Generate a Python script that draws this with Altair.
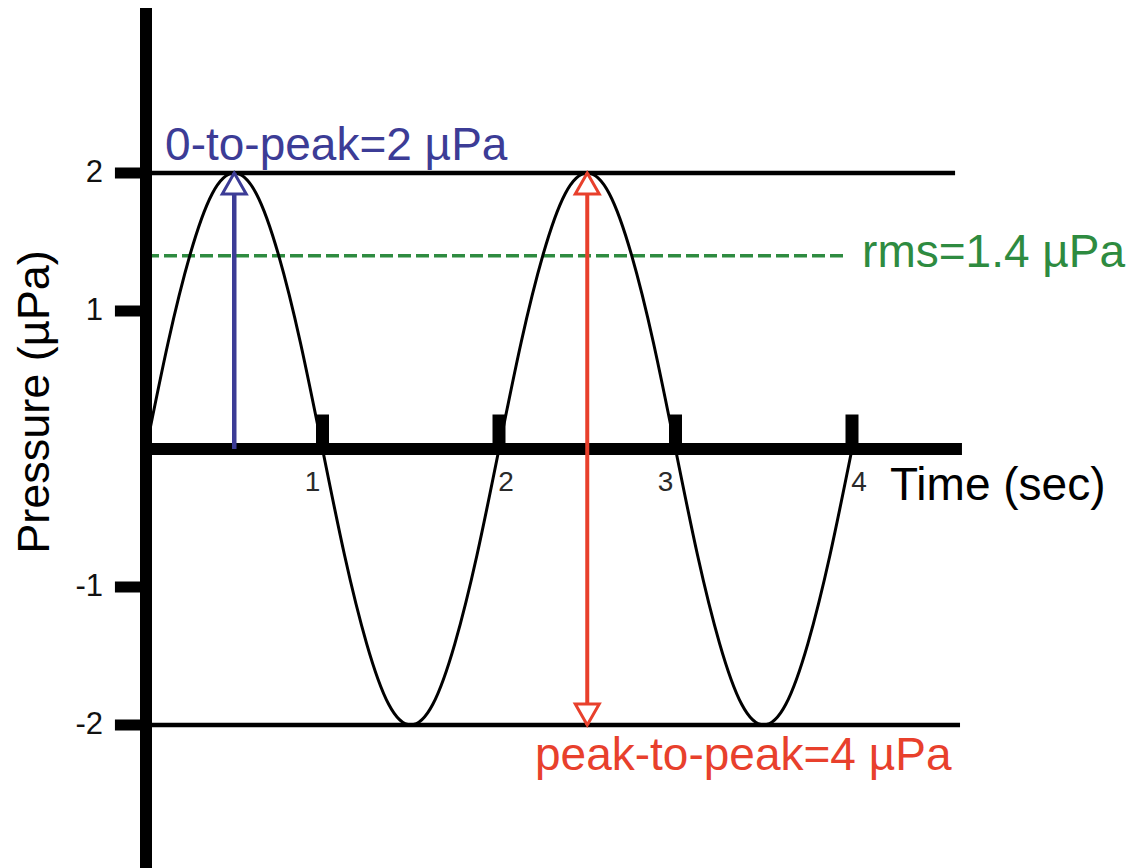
import altair as alt
import pandas as pd

# Sound-pressure sine wave: time (s) and pressure (µPa)
time_s = [0, 0.125, 0.25, 0.375, 0.5, 0.625, 0.75, 0.875,
          1, 1.125, 1.25, 1.375, 1.5, 1.625, 1.75, 1.875,
          2, 2.125, 2.25, 2.375, 2.5, 2.625, 2.75, 2.875,
          3, 3.125, 3.25, 3.375, 3.5, 3.625, 3.75, 3.875, 4]
pressure = [0, 0.77, 1.41, 1.85, 2, 1.85, 1.41, 0.77,
            0, -0.77, -1.41, -1.85, -2, -1.85, -1.41, -0.77,
            0, 0.77, 1.41, 1.85, 2, 1.85, 1.41, 0.77,
            0, -0.77, -1.41, -1.85, -2, -1.85, -1.41, -0.77, 0]

x_ticks = [1, 2, 3, 4]
x_tick_labels = ["1", "2", "3", "4"]
y_ticks = [2, 1, -1, -2]
y_tick_labels = ["2", "1", "-1", "-2"]

peak = 2.0          # 0-to-peak amplitude
rms = 1.4           # root-mean-square value
peak_to_peak = 4.0  # trough to crest
peak_time = 0.5
crest_time = 2.5

BLUE = "#3c3c96"
RED = "#e8402c"
GREEN = "#2e8b40"
FONT = "Liberation Sans"

XS = alt.Scale(domain=[-0.8272, 5.5694], nice=False, zero=False)
YS = alt.Scale(domain=[-3.0362, 3.2536], nice=False, zero=False)


def X(field):
    return alt.X(field, type="quantitative", scale=XS, axis=None)


def Y(field):
    return alt.Y(field, type="quantitative", scale=YS, axis=None)


# axes drawn as thick rules crossing at the origin
y_axis = alt.Chart(pd.DataFrame({"x": [0], "y": [3.196], "y2": [-3.2]})).mark_rule(
    color="black", strokeWidth=12
).encode(x=X("x"), y=Y("y"), y2="y2")

x_axis = alt.Chart(pd.DataFrame({"x": [0], "x2": [4.623], "y": [0]})).mark_rule(
    color="black", strokeWidth=12
).encode(x=X("x"), x2="x2", y=Y("y"))

# horizontal reference lines at the crest and trough
levels = alt.Chart(pd.DataFrame({"x": [0, 0], "x2": [4.584, 4.612], "y": [peak, -peak]})).mark_rule(
    color="black", strokeWidth=4.5
).encode(x=X("x"), x2="x2", y=Y("y"))

rms_line = alt.Chart(pd.DataFrame({"x": [0], "x2": [3.977], "y": [rms]})).mark_rule(
    color=GREEN, strokeWidth=3.5, strokeDash=[13, 5]
).encode(x=X("x"), x2="x2", y=Y("y"))

x_tick_df = pd.DataFrame({"t": x_ticks, "y": [0] * 4, "y2": [0.25] * 4, "label": x_tick_labels,
                          "odd": [t % 2 == 1 for t in x_ticks]})
x_tick_marks = alt.Chart(x_tick_df).mark_rule(color="black", strokeWidth=13).encode(
    x=X("t"), y=Y("y"), y2="y2"
)
x_tick_text_odd = alt.Chart(x_tick_df).transform_filter("datum.odd").mark_text(
    font=FONT, fontSize=28, color="#2a2a2a", dx=-10, dy=34, align="center", baseline="middle"
).encode(x=X("t"), y=Y("y"), text="label:N")
x_tick_text_even = alt.Chart(x_tick_df).transform_filter("!datum.odd").mark_text(
    font=FONT, fontSize=28, color="#2a2a2a", dx=7, dy=34, align="center", baseline="middle"
).encode(x=X("t"), y=Y("y"), text="label:N")

y_tick_df = pd.DataFrame({"p": y_ticks, "x": [-0.176] * 4, "x2": [0] * 4, "label": y_tick_labels})
y_tick_marks = alt.Chart(y_tick_df).mark_rule(color="black", strokeWidth=11).encode(
    x=X("x"), x2="x2", y=Y("p")
)
y_tick_text = alt.Chart(y_tick_df).mark_text(
    font=FONT, fontSize=31, color="#111", dx=-43, align="right", baseline="middle"
).encode(x=X("x2"), y=Y("p"), text="label:N")

wave = alt.Chart(pd.DataFrame({"t": time_s, "p": pressure})).mark_line(
    color="black", strokeWidth=3, interpolate="natural"
).encode(x=X("t"), y=Y("p"))

# amplitude arrows
blue_shaft = alt.Chart(pd.DataFrame({"t": [peak_time], "y": [0], "y2": [peak]})).mark_rule(
    color=BLUE, strokeWidth=4.5
).encode(x=X("t"), y=Y("y"), y2="y2")
red_shaft = alt.Chart(pd.DataFrame({"t": [crest_time], "y": [peak_to_peak - peak], "y2": [-peak]})).mark_rule(
    color=RED, strokeWidth=4
).encode(x=X("t"), y=Y("y"), y2="y2")

UP = "M0,0L-0.6,1.05L0.6,1.05Z"
DOWN = "M0,0L-0.6,-1.05L0.6,-1.05Z"
blue_head = alt.Chart(pd.DataFrame({"t": [peak_time], "p": [peak]})).mark_point(
    shape=UP, size=1600, filled=True, fill="white", stroke=BLUE, strokeWidth=3, opacity=1
).encode(x=X("t"), y=Y("p"))
red_head_up = alt.Chart(pd.DataFrame({"t": [crest_time], "p": [peak]})).mark_point(
    shape=UP, size=1600, filled=True, fill="white", stroke=RED, strokeWidth=3, opacity=1
).encode(x=X("t"), y=Y("p"))
red_head_down = alt.Chart(pd.DataFrame({"t": [crest_time], "p": [-peak]})).mark_point(
    shape=DOWN, size=1600, filled=True, fill="white", stroke=RED, strokeWidth=3, opacity=1
).encode(x=X("t"), y=Y("p"))

# annotations
ann = pd.DataFrame({
    "x": [0.108, 4.057, 2.204],
    "y": [peak, rms, -peak],
    "text": ["0-to-peak=2 µPa", "rms=1.4 µPa", "peak-to-peak=4 µPa"],
})
blue_label = alt.Chart(ann.iloc[[0]]).mark_text(
    font=FONT, fontSize=46, color=BLUE, align="left", baseline="alphabetic", dy=-13
).encode(x=X("x"), y=Y("y"), text="text:N")
green_label = alt.Chart(ann.iloc[[1]]).mark_text(
    font=FONT, fontSize=46, color=GREEN, align="left", baseline="alphabetic", dy=11
).encode(x=X("x"), y=Y("y"), text="text:N")
red_label = alt.Chart(ann.iloc[[2]]).mark_text(
    font=FONT, fontSize=46, color=RED, align="left", baseline="alphabetic", dy=45
).encode(x=X("x"), y=Y("y"), text="text:N")

x_title = alt.Chart(pd.DataFrame({"x": [4.215], "y": [0], "text": ["Time (sec)"]})).mark_text(
    font=FONT, fontSize=46, color="black", align="left", baseline="alphabetic", dy=51
).encode(x=X("x"), y=Y("y"), text="text:N")
y_title = alt.Chart(pd.DataFrame({"x": [-0.629], "y": [0.34], "text": ["Pressure (µPa)"]})).mark_text(
    font=FONT, fontSize=45, color="black", align="center", baseline="middle", angle=270
).encode(x=X("x"), y=Y("y"), text="text:N")

chart = alt.layer(
    levels, rms_line, wave, y_axis, x_axis, x_tick_marks, y_tick_marks,
    blue_shaft, red_shaft, blue_head, red_head_up, red_head_down,
    x_tick_text_odd, x_tick_text_even, y_tick_text,
    blue_label, green_label, red_label, x_title, y_title,
).properties(
    width=1129, height=868, padding=0, autosize=alt.AutoSizeParams(type="none"),
    background="white",
).configure_view(stroke=None)

chart.save("out.html", embed_options={"renderer": "svg", "actions": False})
